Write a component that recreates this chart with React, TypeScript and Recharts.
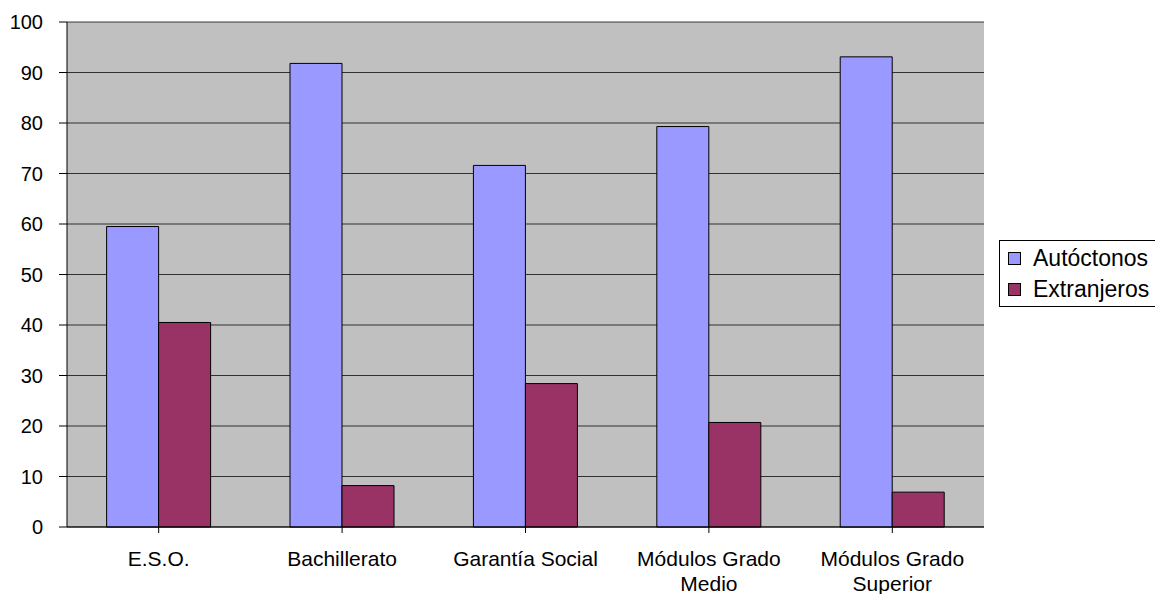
import React from "react";
import { BarChart, Bar, XAxis, YAxis, CartesianGrid } from "recharts";

// Education level (category axis)
const categories = [
  "E.S.O.",
  "Bachillerato",
  "Garantía Social",
  "Módulos Grado Medio",
  "Módulos Grado Superior",
];

// Tick labels, split into lines
const categoryLabels: string[][] = [
  ["E.S.O."],
  ["Bachillerato"],
  ["Garantía Social"],
  ["Módulos Grado", "Medio"],
  ["Módulos Grado", "Superior"],
];

// Percentage of students per group
const autoctonos = [59.5, 91.8, 71.6, 79.3, 93.1];
const extranjeros = [40.5, 8.2, 28.4, 20.7, 6.9];

const yTicks = [0, 10, 20, 30, 40, 50, 60, 70, 80, 90, 100];

const seriesNames = ["Autóctonos", "Extranjeros"];

const data = categories.map((c, i) => ({
  name: c,
  Autóctonos: autoctonos[i],
  Extranjeros: extranjeros[i],
}));

const FONT = "'Liberation Sans', Arial, sans-serif";
const BLUE = "#9999FF";
const PLUM = "#993366";
const seriesColors = [BLUE, PLUM];

const CategoryTick = (props: any) => {
  const { x, y, index } = props;
  const lines = categoryLabels[index] || [];
  return (
    <g>
      {lines.map((line, i) => (
        <text
          key={i}
          x={x}
          y={y + 31 + i * 25}
          textAnchor="middle"
          fontFamily={FONT}
          fontSize={21}
          fill="#000"
        >
          {line}
        </text>
      ))}
    </g>
  );
};

const LegendBox = () => (
  <div
    style={{
      position: "absolute",
      left: 999,
      top: 240,
      border: "1px solid #000",
      background: "#fff",
      width: 170,
      height: 67,
      boxSizing: "border-box",
      paddingLeft: 8,
      paddingTop: 2,
      fontFamily: FONT,
      fontSize: 23,
      color: "#000",
    }}
  >
    {seriesNames.map((label, i) => (
      <div
        key={label}
        style={{ display: "flex", alignItems: "center", height: 31 }}
      >
        <span
          style={{
            display: "inline-block",
            width: 11,
            height: 11,
            background: seriesColors[i],
            border: "1px solid #000",
            marginRight: 12,
          }}
        />
        <span>{label}</span>
      </div>
    ))}
  </div>
);

export default function App() {
  return (
    <div
      style={{
        position: "absolute",
        left: 0,
        top: 0,
        width: 1155,
        height: 594,
        overflow: "hidden",
        background: "#fff",
      }}
    >
      <BarChart
        width={1155}
        height={594}
        data={data}
        margin={{ top: 22, right: 171, bottom: 0, left: 0 }}
        barCategoryGap="21.6%"
        barGap={0}
      >
        <CartesianGrid
          vertical={false}
          stroke="#000"
          strokeOpacity={0.75}
          fill="#C0C0C0"
          fillOpacity={1}
        />
        <XAxis
          dataKey="name"
          tickLine={{ stroke: "#000" }}
          tickSize={6}
          axisLine={{ stroke: "#000" }}
          tick={<CategoryTick />}
          interval={0}
          height={67}
        />
        <YAxis
          domain={[0, 100]}
          ticks={yTicks}
          width={67}
          tickSize={8}
          tickMargin={16}
          axisLine={{ stroke: "#000" }}
          tickLine={{ stroke: "#000" }}
          tick={{ fill: "#000", fontFamily: FONT, fontSize: 20 }}
          interval={0}
        />
        <YAxis
          yAxisId="frame"
          orientation="right"
          width={0}
          tick={false}
          tickLine={false}
          axisLine={{ stroke: "#808080" }}
        />
        <Bar
          dataKey="Autóctonos"
          fill={BLUE}
          stroke="#000"
          strokeWidth={1}
          isAnimationActive={false}
        />
        <Bar
          dataKey="Extranjeros"
          fill={PLUM}
          stroke="#000"
          strokeWidth={1}
          isAnimationActive={false}
        />
      </BarChart>
      <LegendBox />
    </div>
  );
}
